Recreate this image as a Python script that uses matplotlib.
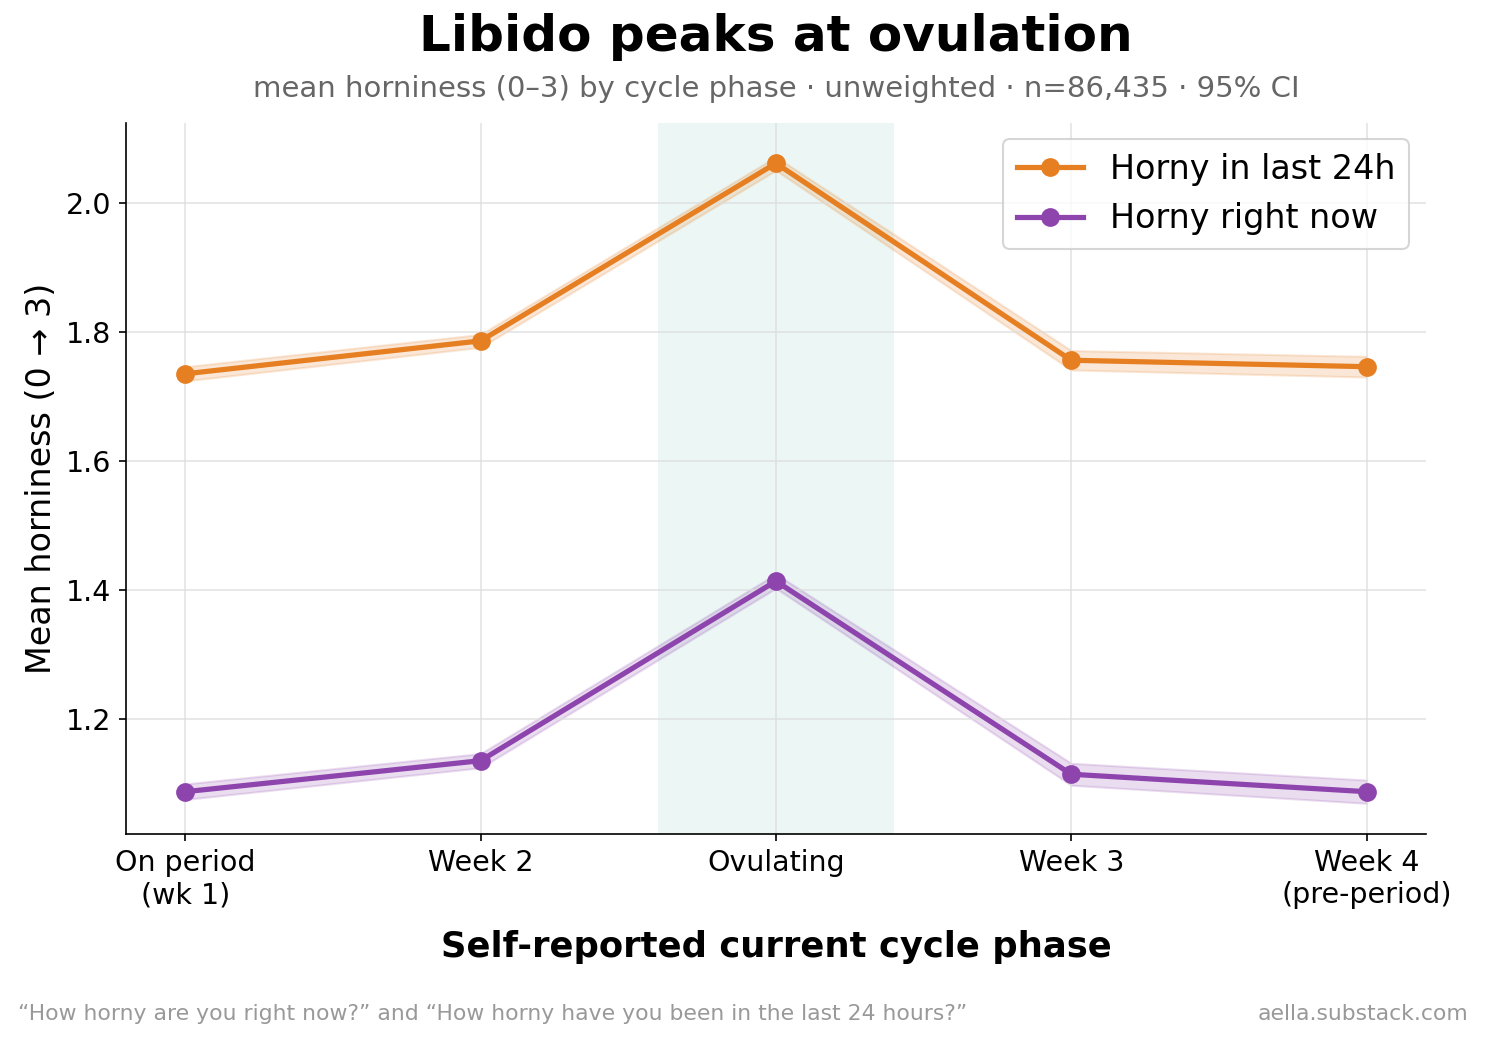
import numpy as np
import matplotlib.pyplot as plt

phases = ['On period\n(wk 1)', 'Week 2', 'Ovulating', 'Week 3', 'Week 4\n(pre-period)']
last24 = [1.735, 1.786, 2.061, 1.756, 1.746]
last24_lo = [1.724, 1.776, 2.050, 1.741, 1.730]
last24_hi = [1.746, 1.796, 2.071, 1.771, 1.762]
now = [1.088, 1.136, 1.414, 1.115, 1.088]
now_lo = [1.076, 1.125, 1.403, 1.098, 1.070]
now_hi = [1.100, 1.147, 1.425, 1.132, 1.106]

x = np.arange(len(phases))

fig, ax = plt.subplots(figsize=(9.9, 6.927), dpi=150)
fig.subplots_adjust(left=0.085, right=0.960, top=0.882, bottom=0.197)

ax.axvspan(1.6, 2.4, color='#16a085', alpha=0.08, lw=0)

ax.fill_between(x, last24_lo, last24_hi, color='#e67e22', alpha=0.18, lw=1)
ax.plot(x, last24, '-o', color='#e67e22', lw=2.5, ms=8, label='Horny in last 24h')
ax.fill_between(x, now_lo, now_hi, color='#8e44ad', alpha=0.18, lw=1)
ax.plot(x, now, '-o', color='#8e44ad', lw=2.5, ms=8, label='Horny right now')

ax.set_xlim(-0.2, 4.2)
ax.set_ylim(1.022, 2.124)
ax.set_xticks(x)
ax.set_xticklabels(phases, fontsize=13.7)
ax.set_yticks([1.2, 1.4, 1.6, 1.8, 2.0])
ax.tick_params(axis='y', labelsize=13.7)
ax.grid(True, color='#dddddd', lw=0.8, alpha=0.8)
ax.spines['top'].set_visible(False)
ax.spines['right'].set_visible(False)

ax.set_xlabel('Self-reported current cycle phase', fontsize=17, fontweight='bold', labelpad=10)
ax.set_ylabel('Mean horniness (0 \u2192 3)', fontsize=16, labelpad=4)
ax.legend(loc='upper right', fontsize=16)

# title centred over the axes, not the figure
cx = 0.5225
fig.text(cx, 0.964, 'Libido peaks at ovulation', ha='center', va='center', fontsize=24, fontweight='bold')
fig.text(cx, 0.914, 'mean horniness (0\u20133) by cycle phase \u00b7 unweighted \u00b7 n=86,435 \u00b7 95% CI',
         ha='center', va='center', fontsize=14, color='#666666')
fig.text(0.012, 0.024, '\u201cHow horny are you right now?\u201d and \u201cHow horny have you been in the last 24 hours?\u201d',
         ha='left', va='center', fontsize=10.5, color='#999999')
fig.text(0.989, 0.024, 'aella.substack.com', ha='right', va='center', fontsize=10.5, color='#999999')

fig.savefig('out.png', dpi=150)
